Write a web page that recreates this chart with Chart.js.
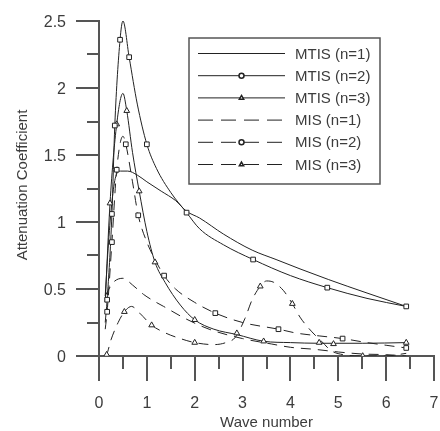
<!DOCTYPE html>
<html>
<head>
<meta charset="utf-8">
<script src="https://cdn.jsdelivr.net/npm/chart.js@4/dist/chart.umd.min.js"></script>
<style>
  html, body { margin: 0; padding: 0; background: #fff; }
  #wrap { position: relative; width: 440px; height: 431px; }
  #chart { display: block; }
  .lbl { position: absolute; color: #3c3c3c; font-family: 'Liberation Sans', Arial, sans-serif; line-height: 1; white-space: nowrap; }
</style>
</head>
<body>
<div id="wrap"><canvas id="chart" width="440" height="431"></canvas></div>
<script>
// values
const seriesNames = ["MTIS (n=1)", "MTIS (n=2)", "MTIS (n=3)", "MIS (n=1)", "MIS (n=2)", "MIS (n=3)"];

const mtis1X = [0.13, 0.2, 0.27, 0.35, 0.45, 0.6, 0.8, 1.0, 1.3, 1.6, 1.83, 2.1, 2.6, 3.2, 3.7, 4.2, 4.8, 5.6, 6.42];
const mtis1Y = [0.45, 0.85, 1.15, 1.34, 1.38, 1.38, 1.35, 1.3, 1.23, 1.16, 1.08, 1.03, 0.91, 0.79, 0.72, 0.65, 0.57, 0.47, 0.37];

const mtis2X = [0.13, 0.17, 0.27, 0.33, 0.44, 0.5, 0.63, 0.8, 1.0, 1.2, 1.5, 1.83, 2.1, 2.6, 3.22, 4.0, 4.77, 5.6, 6.42];
const mtis2Y = [0.25, 0.42, 1.06, 1.72, 2.36, 2.5, 2.23, 1.88, 1.58, 1.4, 1.22, 1.07, 0.95, 0.83, 0.72, 0.6, 0.51, 0.43, 0.37];
const mtis2MarkX = [0.17, 0.27, 0.33, 0.44, 0.63, 1.0, 1.83, 3.22, 4.77, 6.42];
const mtis2MarkY = [0.42, 1.06, 1.72, 2.36, 2.23, 1.58, 1.07, 0.72, 0.51, 0.37];

const mtis3X = [0.13, 0.23, 0.37, 0.5, 0.58, 0.7, 0.84, 1.0, 1.17, 1.38, 1.7, 2.0, 2.4, 2.88, 3.44, 4.0, 4.6, 5.5, 6.42];
const mtis3Y = [0.4, 1.14, 1.73, 1.96, 1.83, 1.52, 1.23, 0.93, 0.7, 0.55, 0.38, 0.27, 0.2, 0.16, 0.11, 0.1, 0.095, 0.095, 0.1];
const mtis3MarkX = [0.23, 0.37, 0.58, 0.84, 1.17, 2.0, 2.88, 3.44, 4.6, 4.9, 6.42];
const mtis3MarkY = [1.14, 1.73, 1.83, 1.23, 0.7, 0.27, 0.17, 0.11, 0.1, 0.09, 0.1];

const mis1X = [0.13, 0.3, 0.5, 0.7, 0.93, 1.1, 1.35, 1.8, 2.3, 3.0, 3.6, 4.0, 4.5, 5.0, 5.5, 6.0, 6.42];
const mis1Y = [0.45, 0.55, 0.58, 0.53, 0.46, 0.42, 0.37, 0.28, 0.2, 0.13, 0.09, 0.065, 0.05, 0.03, 0.015, 0.01, 0.0];

const mis2X = [0.13, 0.17, 0.27, 0.37, 0.5, 0.56, 0.7, 0.82, 1.0, 1.2, 1.36, 1.6, 2.0, 2.43, 3.0, 3.75, 4.14, 4.6, 5.09, 5.6, 6.0, 6.42];
const mis2Y = [0.2, 0.33, 0.85, 1.39, 1.64, 1.58, 1.3, 1.05, 0.85, 0.7, 0.6, 0.5, 0.4, 0.32, 0.25, 0.2, 0.17, 0.15, 0.13, 0.1, 0.08, 0.06];
const mis2MarkX = [0.17, 0.27, 0.37, 0.56, 0.82, 1.36, 2.43, 3.75, 5.09, 6.42];
const mis2MarkY = [0.33, 0.85, 1.39, 1.58, 1.05, 0.6, 0.32, 0.2, 0.13, 0.06];

const mis3X = [0.13, 0.16, 0.25, 0.4, 0.53, 0.68, 0.85, 1.1, 1.4, 1.7, 2.0, 2.4, 2.65, 2.85, 3.05, 3.2, 3.37, 3.5, 3.65, 3.85, 4.04, 4.2, 4.45, 4.65, 4.85, 5.1, 5.51, 6.0, 6.42];
const mis3Y = [0.0, 0.01, 0.12, 0.25, 0.33, 0.37, 0.32, 0.23, 0.17, 0.13, 0.1, 0.085, 0.1, 0.14, 0.28, 0.42, 0.52, 0.56, 0.55, 0.49, 0.39, 0.29, 0.18, 0.11, 0.04, 0.01, 0.0, 0.0, 0.02];
const mis3MarkX = [0.16, 0.53, 1.1, 2.0, 3.37, 4.04, 5.51];
const mis3MarkY = [0.01, 0.33, 0.23, 0.1, 0.52, 0.39, 0.0];

const xTicks = [0, 1, 2, 3, 4, 5, 6, 7];
const yTicks = [0, 0.5, 1, 1.5, 2, 2.5];
const xTitle = "Wave number";
const yTitle = "Attenuation Coefficient";

// ---- styling ----
const INK = "#222";
const AXIS = "#555";
const TEXT = "#3c3c3c";
const FONT = "'Liberation Sans', Arial, sans-serif";
const PLOT_DASH = [10, 7];
const LEGEND_DASH = [15, 8];

const pts = (xs, ys) => xs.map((x, i) => ({ x, y: ys[i] }));

function curve(xs, ys, dashed) {
  return {
    data: pts(xs, ys),
    borderColor: INK,
    borderWidth: 1,
    borderDash: dashed ? PLOT_DASH : [],
    pointRadius: 0,
    cubicInterpolationMode: "monotone",
    fill: false,
    order: 2,
  };
}

function markers(xs, ys, style) {
  return {
    data: pts(xs, ys),
    showLine: false,
    pointStyle: style,
    pointRadius: 3.3,
    pointBackgroundColor: "#fff",
    pointBorderColor: INK,
    pointBorderWidth: 1,
    order: 1,
  };
}

// legend entries: dash + marker per series
const legendStyle = [
  { dash: false, mark: null },
  { dash: false, mark: "circle" },
  { dash: false, mark: "triangle" },
  { dash: true, mark: null },
  { dash: true, mark: "circle" },
  { dash: true, mark: "triangle" },
];

const boxLegend = {
  id: "boxLegend",
  afterDraw(chart) {
    const ctx = chart.ctx;
    const left = 189, top = 38, right = 380, bottom = 184;
    ctx.save();
    ctx.strokeStyle = AXIS;
    ctx.lineWidth = 1.5;
    ctx.strokeRect(left, top, right - left, bottom - top);

    ctx.font = "15px " + FONT;
    ctx.textAlign = "left";
    ctx.textBaseline = "middle";
    seriesNames.forEach((name, i) => {
      const y = 53.5 + i * 22.2;
      const st = legendStyle[i];
      ctx.strokeStyle = INK;
      ctx.lineWidth = 1;
      ctx.setLineDash(st.dash ? LEGEND_DASH : []);
      ctx.beginPath();
      ctx.moveTo(198, y);
      ctx.lineTo(285, y);
      ctx.stroke();
      ctx.setLineDash([]);
      if (st.mark) {
        ctx.fillStyle = "#fff";
        ctx.lineWidth = 1.5;
        Chart.helpers.drawPoint(ctx, { pointStyle: st.mark, radius: 2.5, borderWidth: 1.5, rotation: 0 }, 241.5, y);
      }
      ctx.fillStyle = TEXT;
      ctx.fillText(name, 295, y + 1);
    });
    ctx.restore();
  },
};

// minor (half-step) tick marks on the library's scales
const minorTicks = {
  id: "minorTicks",
  afterDraw(chart) {
    const { ctx, scales: { x, y } } = chart;
    ctx.save();
    ctx.strokeStyle = AXIS;
    ctx.lineWidth = 2;
    ctx.beginPath();
    for (let v = 0.5; v < 7; v += 1) {
      const px = Math.round(x.getPixelForValue(v));
      ctx.moveTo(px, y.bottom);
      ctx.lineTo(px, y.bottom + 13);
    }
    for (let v = 0.25; v < 2.5; v += 0.5) {
      const py = Math.round(y.getPixelForValue(v));
      ctx.moveTo(x.left, py);
      ctx.lineTo(x.left - 12, py);
    }
    ctx.stroke();
    ctx.restore();
  },
};

const chart = new Chart(document.getElementById("chart"), {
  type: "line",
  data: {
    datasets: [
      markers(mtis2MarkX, mtis2MarkY, "rect"),
      markers(mtis3MarkX, mtis3MarkY, "triangle"),
      markers(mis2MarkX, mis2MarkY, "rect"),
      markers(mis3MarkX, mis3MarkY, "triangle"),
      curve(mtis1X, mtis1Y, false),
      curve(mtis2X, mtis2Y, false),
      curve(mtis3X, mtis3Y, false),
      curve(mis1X, mis1Y, true),
      curve(mis2X, mis2Y, true),
      curve(mis3X, mis3Y, true),
    ],
  },
  options: {
    responsive: false,
    animation: false,
    events: [],
    layout: { padding: { top: 21, right: 6, left: 0, bottom: 0 } },
    plugins: { legend: { display: false }, tooltip: { enabled: false } },
    scales: {
      x: {
        type: "linear",
        min: 0,
        max: 7,
        afterBuildTicks: (s) => { s.ticks = xTicks.map((v) => ({ value: v })); },
        afterFit: (s) => { s.height = 75; },
        ticks: { display: false },
        grid: { drawOnChartArea: false, tickLength: 25, color: AXIS, lineWidth: 2 },
        border: { color: AXIS, width: 2 },
      },
      y: {
        type: "linear",
        min: 0,
        max: 2.5,
        afterBuildTicks: (s) => { s.ticks = yTicks.map((v) => ({ value: v })); },
        afterFit: (s) => { s.width = 99; },
        ticks: { display: false },
        grid: { drawOnChartArea: false, tickLength: 23, color: AXIS, lineWidth: 2 },
        border: { color: AXIS, width: 2 },
      },
    },
  },
  plugins: [minorTicks, boxLegend],
});

// axis text as page text, placed from the chart's scales
const wrap = document.getElementById("wrap");
function addLabel(text, css) {
  const el = document.createElement("div");
  el.className = "lbl";
  el.textContent = text;
  Object.assign(el.style, css);
  wrap.appendChild(el);
}
const sx = chart.scales.x, sy = chart.scales.y;
xTicks.forEach((v) => addLabel(String(v), {
  left: sx.getPixelForValue(v) + "px", top: "403px", fontSize: "16px", transform: "translate(-50%, -50%)",
}));
yTicks.forEach((v) => addLabel(String(v), {
  right: (440 - 66) + "px", top: sy.getPixelForValue(v) + 1 + "px", fontSize: "16px", transform: "translateY(-50%)",
}));
addLabel(xTitle, {
  left: (sx.left + sx.right) / 2 + "px", top: "421px", fontSize: "15px", transform: "translate(-50%, -50%)",
});
addLabel(yTitle, {
  left: "21px", top: (sy.top + sy.bottom) / 2 - 4 + "px", fontSize: "15px", transform: "translate(-50%, -50%) rotate(-90deg)",
});
</script>
</body>
</html>
